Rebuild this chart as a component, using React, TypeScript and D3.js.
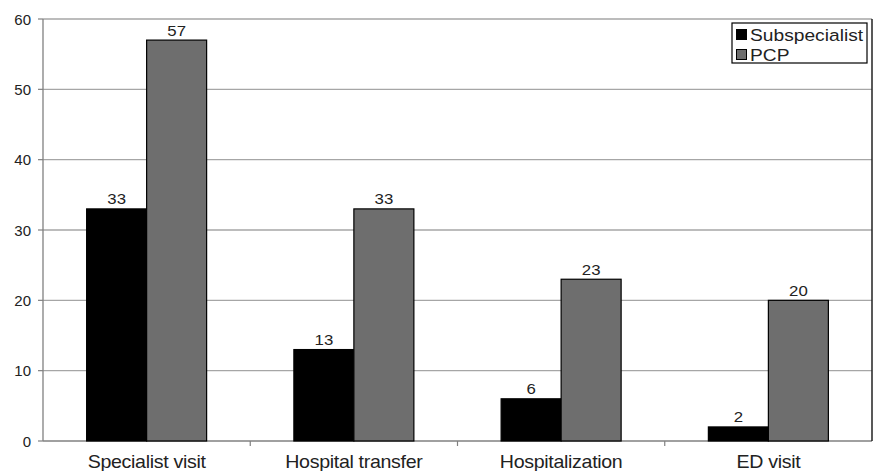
import React from "react";
import * as d3 from "d3";

const categories = ["Specialist visit", "Hospital transfer", "Hospitalization", "ED visit"];
const seriesNames = ["Subspecialist", "PCP"];
const subspecialist = [33, 13, 6, 2];
const pcp = [57, 33, 23, 20];
const yTicks = [0, 10, 20, 30, 40, 50, 60];
const colors = ["#000000", "#6e6e6e"];

const W = 875, H = 471;
const left = 43, right = 872, top = 19, bottom = 441;

function T(props: { x: number; y: number; sx?: number; size: number; anchor?: string; children: any; ls?: number }) {
  const { x, y, sx = 1, size, anchor = "start", children, ls = 0 } = props;
  return (
    <g transform={`translate(${x},${y}) scale(${sx},1)`}>
      <text x={0} y={0} textAnchor={anchor as any} fontSize={size} fill="#222" letterSpacing={ls}>{children}</text>
    </g>
  );
}

export default function App() {
  const x = d3.scaleBand<string>().domain(categories).range([left, right]).paddingInner(0).paddingOuter(0);
  const y = d3.scaleLinear().domain([0, 60]).range([bottom, top]);
  const inner = d3.scaleBand<string>().domain(seriesNames).range([0, 120]);
  const groupOffset = (x.bandwidth() - 120) / 2;
  const series = [subspecialist, pcp];
  const font = "'Liberation Sans', Arial, sans-serif";
  return (
    <svg width={W} height={H} style={{ position: "absolute", left: 0, top: 0, background: "#fff" }} fontFamily={font}>
      {yTicks.map((t) => (
        <g key={t}>
          {t > 0 && <line x1={left} x2={right} y1={y(t)} y2={y(t)} stroke="#a6a6a6" strokeWidth={1.3} />}
          <line x1={left - 5} x2={left} y1={y(t)} y2={y(t)} stroke="#808080" strokeWidth={1.2} />
          <T x={31} y={y(t) + 5.5} size={15} anchor="end">{t}</T>
        </g>
      ))}
      <line x1={left} x2={left} y1={top} y2={bottom} stroke="#808080" strokeWidth={1.3} />
      <line x1={left} x2={right} y1={bottom} y2={bottom} stroke="#808080" strokeWidth={1.3} />
      <line x1={right} x2={right} y1={top} y2={bottom} stroke="#222" strokeWidth={1.5} />
      {categories.slice(1).map((c) => (
        <line key={c} x1={x(c)!} x2={x(c)!} y1={bottom} y2={bottom + 5} stroke="#808080" strokeWidth={1.2} />
      ))}
      {categories.map((c, i) => (
        <g key={c}>
          {series.map((s, j) => {
            const bx = x(c)! + groupOffset + inner(seriesNames[j])!;
            const by = y(s[i]);
            return (
              <g key={j}>
                <rect x={bx} y={by} width={inner.bandwidth()} height={bottom - by} fill={colors[j]} stroke="#000" strokeWidth={1.2} />
                <T x={bx + inner.bandwidth() / 2} y={by - 4.5} size={15} sx={1.12} anchor="middle">{s[i]}</T>
              </g>
            );
          })}
          <T x={x(c)! + x.bandwidth() / 2} y={468} size={18} sx={1.09} anchor="middle" ls={-0.3}>{c}</T>
        </g>
      ))}
      <g>
        <rect x={732} y={23} width={135} height={40} fill="#fff" stroke="#000" strokeWidth={1.2} />
        {seriesNames.map((n, j) => (
          <g key={n}>
            <rect x={736.5} y={29.5 + j * 20} width={10} height={10} fill={colors[j]} stroke="#000" strokeWidth={1} />
            <T x={750} y={41 + j * 20} size={17} sx={1.13}>{n}</T>
          </g>
        ))}
      </g>
    </svg>
  );
}
